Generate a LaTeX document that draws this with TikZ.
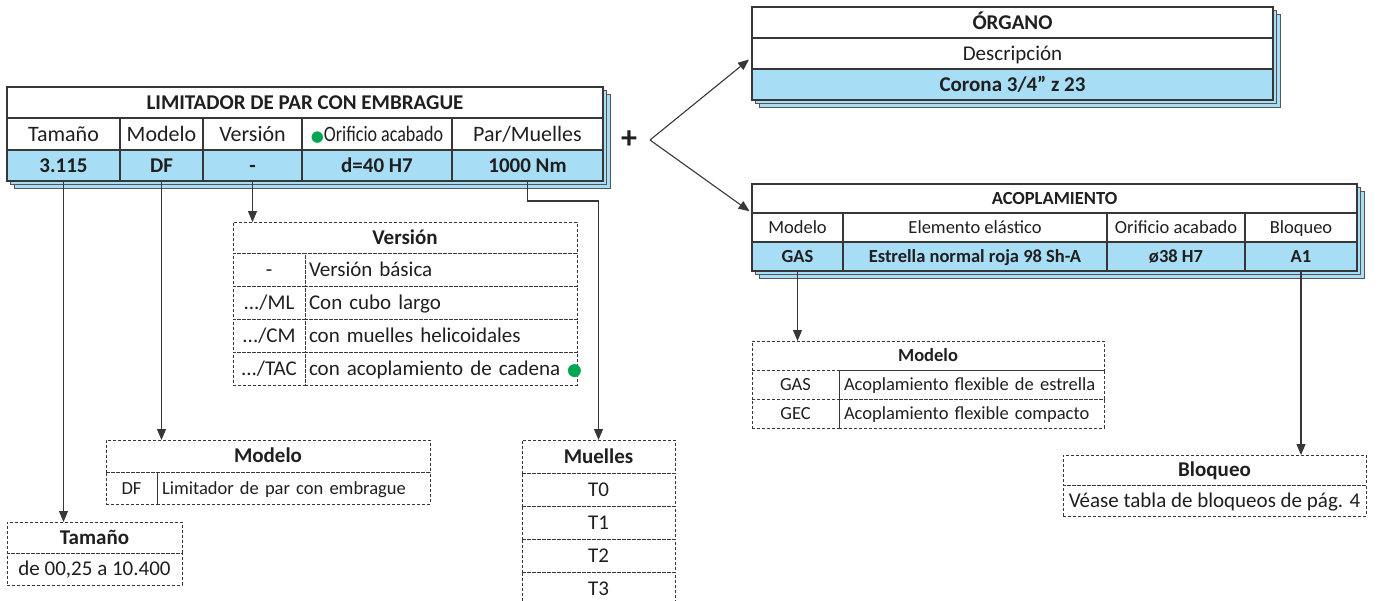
\documentclass[tikz,border=0pt]{standalone}
\usepackage{fontspec}
\setmainfont{Carlito}
\newfontfamily\dotfont{DejaVu Sans}
\usepackage{xcolor}
\usepackage{tikz}
\usetikzlibrary{arrows.meta,positioning,calc,backgrounds}
\definecolor{tabblue}{RGB}{168,221,246}
\definecolor{tabline}{RGB}{55,55,55}
\definecolor{dotgreen}{RGB}{0,166,81}
\newcommand{\okdot}[1]{{\fontsize{#1}{#1}\dotfont\textcolor{dotgreen}{●}}}
\tikzset{
  cell/.style={
    rectangle,
    draw=tabline,
    line width=1.3pt,
    fill=white,
    inner sep=0pt,
    outer sep=0pt,
    align=center,
    text=black!88,
    minimum height=31pt,
    text height=13.5pt,
    text depth=0pt,
    font=\fontsize{21}{24}\selectfont
  },
  headcell/.style={cell, minimum height=32pt, text height=14pt, font=\fontsize{22}{24}\selectfont},
  titlecell/.style={cell, font=\fontsize{21}{24}\selectfont\bfseries},
  valcell/.style={cell, fill=tabblue, font=\fontsize{21}{24}\selectfont\bfseries},
  smallcell/.style={cell, minimum height=29pt, text height=12pt, font=\fontsize{18.5}{22}\selectfont},
  smalltitle/.style={smallcell, text height=12pt, font=\fontsize{18.5}{22}\selectfont\bfseries},
  smallval/.style={smallcell, fill=tabblue, font=\fontsize{18.5}{22}\selectfont\bfseries},
  stacklayer/.style={draw=tabline!85, line width=1pt, fill=tabblue},
  keycell/.style={
    rectangle,
    draw=tabline,
    dash pattern=on 3pt off 2pt,
    line width=1pt,
    inner sep=0pt,
    outer sep=0pt,
    align=center,
    text=black!88,
    minimum height=33pt,
    text height=13.5pt,
    text depth=0pt,
    font=\fontsize{21}{24}\selectfont
  },
  keytitle/.style={keycell, font=\fontsize{21}{24}\selectfont\bfseries},
  keytext/.style={keycell, align=left, inner xsep=4pt},
  keysmall/.style={keycell, minimum height=29pt, text height=12pt, font=\fontsize{18.5}{22}\selectfont},
  keysmalltext/.style={keysmall, align=left, inner xsep=5pt},
  link/.style={
    draw=tabline,
    line width=1.1pt,
    -{Triangle[length=11pt,width=9pt]}
  }
}

\begin{document}
\begin{tikzpicture}[x=1pt,y=-1pt]
\useasboundingbox (0,0) rectangle (1380,600);

% limitador
\node[titlecell, minimum width=596pt, anchor=north west] (lim-title) at (7,87) {LIMITADOR DE PAR CON EMBRAGUE};
\node[headcell, minimum width=113pt, anchor=north west] (lim-h1) at (lim-title.south west) {Tamaño};
\node[headcell, minimum width=83pt, right=0pt of lim-h1] (lim-h2) {Modelo};
\node[headcell, minimum width=99pt, right=0pt of lim-h2] (lim-h3) {Versión};
\node[headcell, minimum width=150pt, right=0pt of lim-h3] (lim-h4) {\okdot{15}\scalebox{0.82}[1]{Orificio acabado}};
\node[headcell, minimum width=151pt, right=0pt of lim-h4] (lim-h5) {Par/Muelles};
\node[valcell, minimum width=113pt, anchor=north west] (lim-v1) at (lim-h1.south west) {3.115};
\node[valcell, minimum width=83pt, right=0pt of lim-v1] (lim-v2) {DF};
\node[valcell, minimum width=99pt, right=0pt of lim-v2] (lim-v3) {-};
\node[valcell, minimum width=150pt, right=0pt of lim-v3] (lim-v4) {d=40 H7};
\node[valcell, minimum width=151pt, right=0pt of lim-v4] (lim-v5) {1000 Nm};

\node[font=\fontsize{32}{32}\selectfont\bfseries, text=black!88] (plus) at (629,140) {+};
\coordinate (fork) at (650,140);

% organo
\node[titlecell, minimum width=521pt, anchor=north west] (org-title) at (752,7) {ÓRGANO};
\node[cell, minimum width=521pt, anchor=north west] (org-desc) at (org-title.south west) {Descripción};
\node[valcell, minimum width=521pt, anchor=north west] (org-val) at (org-desc.south west) {Corona 3/4” z 23};

% acoplamiento
\node[smalltitle, minimum width=605pt, anchor=north west] (aco-title) at (752,184) {ACOPLAMIENTO};
\node[smallcell, minimum width=91pt, anchor=north west] (aco-h1) at (aco-title.south west) {Modelo};
\node[smallcell, minimum width=264pt, right=0pt of aco-h1] (aco-h2) {Elemento elástico};
\node[smallcell, minimum width=138pt, right=0pt of aco-h2] (aco-h3) {Orificio acabado};
\node[smallcell, minimum width=112pt, right=0pt of aco-h3] (aco-h4) {Bloqueo};
\node[smallval, minimum width=91pt, anchor=north west] (aco-v1) at (aco-h1.south west) {GAS};
\node[smallval, minimum width=264pt, right=0pt of aco-v1] (aco-v2) {Estrella normal roja 98 Sh-A};
\node[smallval, minimum width=138pt, right=0pt of aco-v2] (aco-v3) {ø38 H7};
\node[smallval, minimum width=112pt, right=0pt of aco-v3] (aco-v4) {A1};

% stacked sheets behind the three tables
\begin{scope}[on background layer]
\foreach \t/\b in {lim-title/lim-v5, org-title/org-val, aco-title/aco-v4} {
  \foreach \d in {7,3.5}
    \draw[stacklayer] ($(\t.north west)+(\d,\d)$) rectangle ($(\b.south east)+(\d,\d)$);
}
\end{scope}

% key tables
\node[keytitle, minimum width=344pt, minimum height=31pt, anchor=north west] (ver-title) at (233,222) {Versión};
\node[keycell, minimum width=72pt, anchor=north west] (ver-k1) at (ver-title.south west) {-};
\node[keytext, text width=264pt, right=0pt of ver-k1] (ver-d1) {Versión básica};
\node[keycell, minimum width=72pt, anchor=north west] (ver-k2) at (ver-k1.south west) {.../ML};
\node[keytext, text width=264pt, right=0pt of ver-k2] (ver-d2) {Con cubo largo};
\node[keycell, minimum width=72pt, anchor=north west] (ver-k3) at (ver-k2.south west) {.../CM};
\node[keytext, text width=264pt, right=0pt of ver-k3] (ver-d3) {con muelles helicoidales};
\node[keycell, minimum width=72pt, anchor=north west] (ver-k4) at (ver-k3.south west) {.../TAC};
\node[keytext, text width=264pt, right=0pt of ver-k4] (ver-d4) {\mbox{con acoplamiento de cadena~\okdot{17}}};

\node[keytitle, minimum width=324pt, minimum height=32pt, anchor=north west] (mod-title) at (106,440) {Modelo};
\node[keysmall, minimum width=51pt, minimum height=32pt, anchor=north west] (mod-k1) at (mod-title.south west) {DF};
\node[keysmalltext, text width=263pt, minimum height=32pt, right=0pt of mod-k1] (mod-d1) {Limitador de par con embrague};

\node[keytitle, minimum width=175pt, minimum height=31pt, anchor=north west] (tam-title) at (7,522) {Tamaño};
\node[keycell, minimum width=175pt, minimum height=32pt, anchor=north west] (tam-range) at (tam-title.south west) {de 00,25 a 10.400};

\node[keytitle, minimum width=153pt, anchor=north west] (mue-title) at (522,440) {Muelles};
\node[keycell, minimum width=153pt, anchor=north west] (mue-t0) at (mue-title.south west) {T0};
\node[keycell, minimum width=153pt, anchor=north west] (mue-t1) at (mue-t0.south west) {T1};
\node[keycell, minimum width=153pt, anchor=north west] (mue-t2) at (mue-t1.south west) {T2};
\node[keycell, minimum width=153pt, anchor=north west] (mue-t3) at (mue-t2.south west) {T3};

\node[keysmall, minimum width=352pt, font=\fontsize{18.5}{22}\selectfont\bfseries, anchor=north west] (amod-title) at (752,341) {Modelo};
\node[keysmall, minimum width=87pt, anchor=north west] (amod-k1) at (amod-title.south west) {GAS};
\node[keysmalltext, text width=255pt, right=0pt of amod-k1] (amod-d1) {Acoplamiento flexible de estrella};
\node[keysmall, minimum width=87pt, anchor=north west] (amod-k2) at (amod-k1.south west) {GEC};
\node[keysmalltext, text width=255pt, right=0pt of amod-k2] (amod-d2) {Acoplamiento flexible compacto};

\node[keytitle, minimum width=303pt, minimum height=30pt, anchor=north west] (blq-title) at (1063,455) {Bloqueo};
\node[keycell, minimum width=303pt, minimum height=31pt, anchor=north west] (blq-ref) at (blq-title.south west) {Véase tabla de bloqueos de pág. 4};

% connectors
\draw[link] (lim-v1.south) -- (lim-v1.south |- tam-title.north);
\draw[link] (lim-v2.south) -- (lim-v2.south |- mod-title.north);
\draw[link] (lim-v3.south) -- (lim-v3.south |- ver-title.north);
\draw[link] (lim-v5.south) -- ++(0,20) -| (mue-title.north);
\draw[link] (fork) -- ($(org-desc.west)+(-3,6)$);
\draw[link, shorten >=3pt] (fork) -- (aco-h1.north west);
\draw[link] (aco-v1.south) -- (aco-v1.south |- amod-title.north);
\draw[link] (aco-v4.south) -- (aco-v4.south |- blq-title.north);
\end{tikzpicture}
\end{document}
